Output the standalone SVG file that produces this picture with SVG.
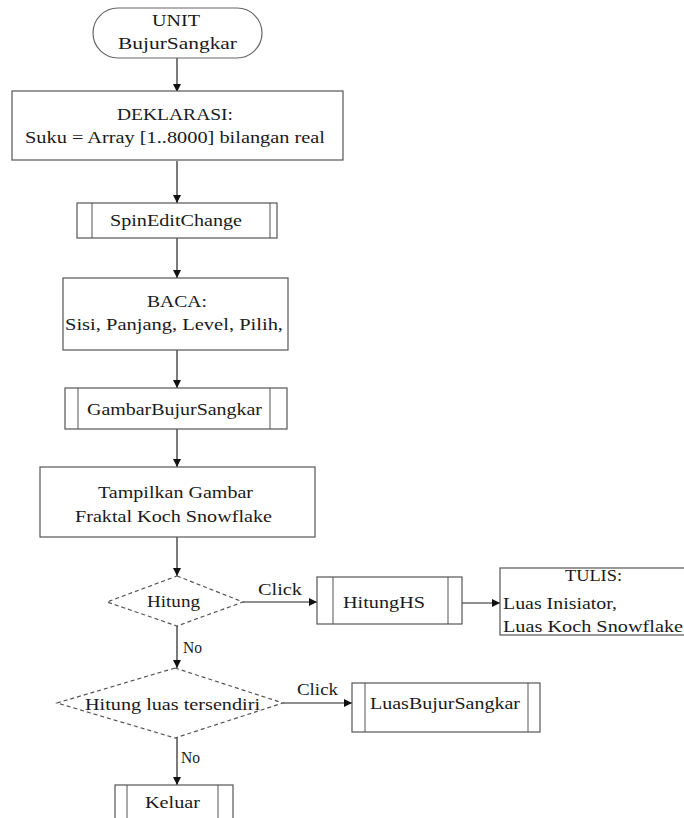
<svg xmlns="http://www.w3.org/2000/svg" width="684" height="818" viewBox="0 0 684 818">
  <defs>
    <marker id="arrow" viewBox="0 0 10 10" refX="10" refY="5" markerWidth="8" markerHeight="8" markerUnits="userSpaceOnUse" orient="auto">
      <path d="M0,0 L10,5 L0,10 z" fill="#111"/>
    </marker>
    <style>
      .box { fill: #ffffff; stroke: #555; stroke-width: 1.2; }
      .term { fill: #ffffff; stroke: #666; stroke-width: 1.2; }
      .dec { fill: #ffffff; stroke: #555; stroke-width: 1.2; stroke-dasharray: 4 3; }
      .inner { stroke: #555; stroke-width: 1; }
      .edge { fill: none; stroke: #222; stroke-width: 1.2; marker-end: url(#arrow); }
      .lbl { font-family: 'Liberation Serif', Tinos, 'Noto Serif', 'DejaVu Serif', FreeSerif, Times, serif; font-size: 17px; fill: #1a1a1a; }
    </style>
  </defs>
  <rect width="684" height="818" fill="#ffffff"/>

  <!-- connectors -->
  <g id="connectors">
    <line class="edge" x1="177" y1="58" x2="177" y2="92"/>
    <line class="edge" x1="177" y1="161" x2="177" y2="203"/>
    <line class="edge" x1="177" y1="238" x2="177" y2="278"/>
    <line class="edge" x1="177" y1="350" x2="177" y2="388"/>
    <line class="edge" x1="177" y1="429" x2="177" y2="467"/>
    <line class="edge" x1="177" y1="537" x2="177" y2="576"/>
    <line class="edge" x1="243" y1="602" x2="317" y2="602"/>
    <line class="edge" x1="462" y1="603" x2="500" y2="603"/>
    <line class="edge" x1="177" y1="626" x2="177" y2="668"/>
    <line class="edge" x1="283" y1="703" x2="352" y2="703"/>
    <line class="edge" x1="177" y1="738" x2="177" y2="785"/>
    <text class="lbl" x="258" y="595" textLength="44" lengthAdjust="spacingAndGlyphs">Click</text>
    <text class="lbl" x="183" y="653" textLength="19" lengthAdjust="spacingAndGlyphs">No</text>
    <text class="lbl" x="297" y="695" textLength="41" lengthAdjust="spacingAndGlyphs">Click</text>
    <text class="lbl" x="181" y="763" textLength="19" lengthAdjust="spacingAndGlyphs">No</text>
  </g>

  <!-- start terminal -->
  <g id="unit">
    <rect class="term" x="93" y="8" width="169" height="50" rx="25" ry="25"/>
    <text class="lbl" x="152" y="26" textLength="48" lengthAdjust="spacingAndGlyphs">UNIT</text>
    <text class="lbl" x="118" y="49" textLength="119" lengthAdjust="spacingAndGlyphs">BujurSangkar</text>
  </g>

  <!-- declaration -->
  <g id="deklarasi">
    <rect class="box" x="12" y="91" width="331" height="69"/>
    <text class="lbl" x="117" y="120" textLength="116" lengthAdjust="spacingAndGlyphs">DEKLARASI:</text>
    <text class="lbl" x="25" y="143" textLength="300" lengthAdjust="spacingAndGlyphs">Suku = Array [1..8000] bilangan real</text>
  </g>

  <!-- subprocess: SpinEditChange -->
  <g id="spinEditChange">
    <rect class="box" x="77" y="203" width="200" height="35"/>
    <line class="inner" x1="92" y1="203" x2="92" y2="238"/>
    <line class="inner" x1="270" y1="203" x2="270" y2="238"/>
    <text class="lbl" x="110" y="226" textLength="132" lengthAdjust="spacingAndGlyphs">SpinEditChange</text>
  </g>

  <!-- input -->
  <g id="baca">
    <rect class="box" x="63" y="278" width="225" height="72"/>
    <text class="lbl" x="147" y="307" textLength="60" lengthAdjust="spacingAndGlyphs">BACA:</text>
    <text class="lbl" x="65" y="330" textLength="218" lengthAdjust="spacingAndGlyphs">Sisi, Panjang, Level, Pilih,</text>
  </g>

  <!-- subprocess: GambarBujurSangkar -->
  <g id="gambarBujurSangkar">
    <rect class="box" x="65" y="388" width="222" height="41"/>
    <line class="inner" x1="78" y1="388" x2="78" y2="429"/>
    <line class="inner" x1="270" y1="388" x2="270" y2="429"/>
    <text class="lbl" x="87" y="415" textLength="175" lengthAdjust="spacingAndGlyphs">GambarBujurSangkar</text>
  </g>

  <!-- display -->
  <g id="tampilkan">
    <rect class="box" x="40" y="467" width="275" height="70"/>
    <text class="lbl" x="98" y="498" textLength="155" lengthAdjust="spacingAndGlyphs">Tampilkan Gambar</text>
    <text class="lbl" x="75" y="522" textLength="197" lengthAdjust="spacingAndGlyphs">Fraktal Koch Snowflake</text>
  </g>

  <!-- decision: Hitung -->
  <g id="hitung">
    <polygon class="dec" points="177,576 243,602 177,626 107,602"/>
    <text class="lbl" x="147" y="607" textLength="53" lengthAdjust="spacingAndGlyphs">Hitung</text>
  </g>

  <!-- subprocess: HitungHS -->
  <g id="hitungHS">
    <rect class="box" x="317" y="577" width="145" height="47"/>
    <line class="inner" x1="333" y1="577" x2="333" y2="624"/>
    <line class="inner" x1="448" y1="577" x2="448" y2="624"/>
    <text class="lbl" x="343" y="608" textLength="82" lengthAdjust="spacingAndGlyphs">HitungHS</text>
  </g>

  <!-- output -->
  <g id="tulis">
    <rect class="box" x="500" y="568" width="190" height="67"/>
    <text class="lbl" x="565" y="581" textLength="57" lengthAdjust="spacingAndGlyphs">TULIS:</text>
    <text class="lbl" x="503" y="609" textLength="114" lengthAdjust="spacingAndGlyphs">Luas Inisiator,</text>
    <text class="lbl" x="503" y="632" textLength="180" lengthAdjust="spacingAndGlyphs">Luas Koch Snowflake</text>
  </g>

  <!-- decision: Hitung luas tersendiri -->
  <g id="hitungLuas">
    <polygon class="dec" points="175,668 283,703 175,738 57,703"/>
    <text class="lbl" x="85" y="710" textLength="175" lengthAdjust="spacingAndGlyphs">Hitung luas tersendiri</text>
  </g>

  <!-- subprocess: LuasBujurSangkar -->
  <g id="luasBujurSangkar">
    <rect class="box" x="352" y="683" width="188" height="49"/>
    <line class="inner" x1="365" y1="683" x2="365" y2="732"/>
    <line class="inner" x1="528" y1="683" x2="528" y2="732"/>
    <text class="lbl" x="370" y="709" textLength="150" lengthAdjust="spacingAndGlyphs">LuasBujurSangkar</text>
  </g>

  <!-- subprocess: Keluar -->
  <g id="keluar">
    <rect class="box" x="115" y="785" width="118" height="40"/>
    <line class="inner" x1="127" y1="785" x2="127" y2="825"/>
    <line class="inner" x1="218" y1="785" x2="218" y2="825"/>
    <text class="lbl" x="145" y="808" textLength="55" lengthAdjust="spacingAndGlyphs">Keluar</text>
  </g>
</svg>
